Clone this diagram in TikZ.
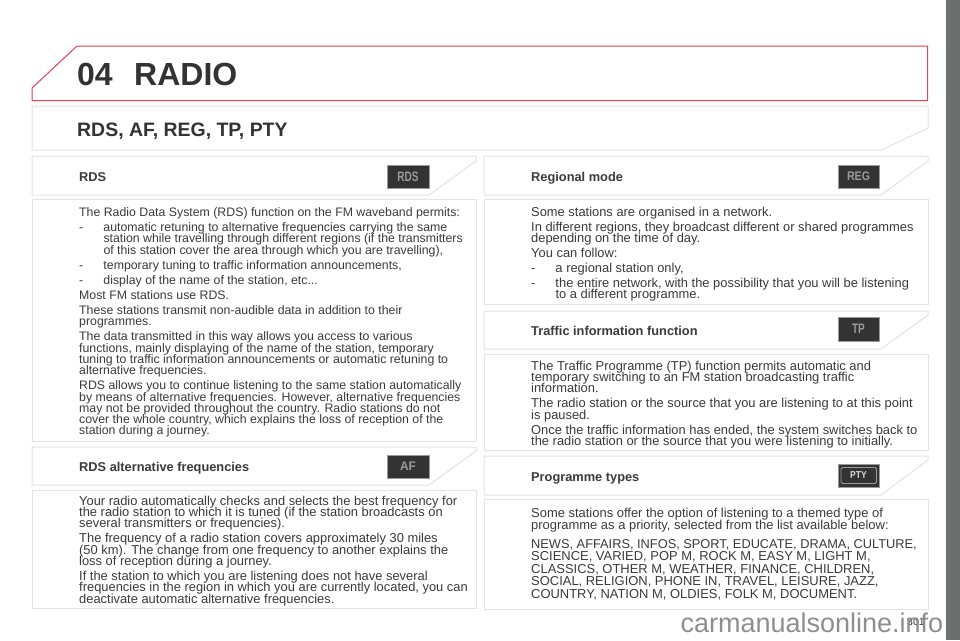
\documentclass[tikz,border=0pt]{standalone}
\usepackage{fontspec}
\setmainfont{Liberation Sans}
\definecolor{ink}{HTML}{3A3A3A}
\definecolor{frame}{HTML}{E3E3E3}
\definecolor{redline}{HTML}{E8404F}
\definecolor{side}{HTML}{6D6E70}
\definecolor{icon}{HTML}{333333}
\definecolor{icontext}{HTML}{9A9A9A}
\definecolor{wm}{HTML}{8E8E8E}
\newcommand{\bl}{\hspace*{24.3pt}}
\newcommand{\dsh}{\makebox[24.3pt][l]{-}}
\newcommand{\pg}{\\[3.75pt]}
\AtBeginDocument{\setlength{\lineskiplimit}{-50pt}}
\tikzset{
  panel/.style={draw=frame,line width=1pt,fill=white},
  bodytext/.style={anchor=north west,inner sep=0pt,align=left,text=ink,font=\fontsize{12.9}{11.3}\selectfont},
  bodywide/.style={anchor=north west,inner sep=0pt,align=left,text=ink,font=\fontsize{12.32}{11.3}\selectfont},
  bodyloose/.style={anchor=north west,inner sep=0pt,align=left,text=ink,font=\fontsize{12.95}{12.5}\selectfont},
  headtext/.style={anchor=base west,inner sep=0pt,text=ink,font=\fontsize{12.8}{14}\selectfont\bfseries},
  iconbox/.style={draw=icontext,line width=0.5pt,fill=icon,minimum width=41.5pt,minimum height=23.5pt,inner sep=0pt,text=icontext,font=\fontsize{12.5}{14}\selectfont\bfseries}
}
\begin{document}
\begin{tikzpicture}[x=1pt,y=-1pt]
\useasboundingbox (0,0) rectangle (960,640);
\fill[white] (0,0) rectangle (960,640);
\fill[side] (946,0) rectangle (960,640);
% title
\draw[draw=redline,line width=1pt,fill=white] (32,88) -- (77,46) -- (927.5,46) -- (927.5,100.5) -- (32,100.5) -- cycle;
\node[anchor=base west,inner sep=0pt,text=icon,font=\fontsize{32}{36}\selectfont\bfseries] (num) at (77,85) {04};
\node[anchor=base west,inner sep=0pt,text=icon,font=\fontsize{32}{36}\selectfont\bfseries] (title) at (134,85) {RADIO};
% section
\draw[panel] (32,106) -- (928,106) -- (928,128) -- (881.5,150) -- (32,150) -- cycle;
\node[anchor=base west,inner sep=0pt,text=icon,font=\fontsize{19.45}{22}\selectfont\bfseries] (section) at (77,136) {RDS, AF, REG, TP, PTY};
% left column
\draw[panel] (32,156) -- (476,156) -- (476,161) -- (429,195) -- (32,195) -- cycle;
\node[headtext] (h1) at (79,181) {RDS};
\node[iconbox] (i1) at (408,176.5) {\scalebox{0.8}[1.1]{RDS}};
\draw[panel] (32,199) rectangle (476,441);
\node[bodywide] (b1) at (79,207.5) {The Radio Data System (RDS) function on the FM waveband permits:\pg
\dsh automatic retuning to alternative frequencies carrying the same\\
\bl station while travelling through different regions (if the transmitters\\
\bl of this station cover the area through which you are travelling),\pg
\dsh temporary tuning to traffic information announcements,\pg
\dsh display of the name of the station, etc...\pg
Most FM stations use RDS.\pg
These stations transmit non-audible data in addition to their\\
programmes.\pg
The data transmitted in this way allows you access to various\\
functions, mainly displaying of the name of the station, temporary\\
tuning to traffic information announcements or automatic retuning to\\
alternative frequencies.\pg
RDS allows you to continue listening to the same station automatically\\
by means of alternative frequencies. However, alternative frequencies\\
may not be provided throughout the country. Radio stations do not\\
cover the whole country, which explains the loss of reception of the\\
station during a journey.};
\draw[panel] (32,447) -- (476,447) -- (476,451) -- (429,485) -- (32,485) -- cycle;
\node[headtext] (h2) at (79,471) {RDS alternative frequencies};
\node[iconbox] (i2) at (408,466.5) {\scalebox{0.95}[1]{AF}};
\draw[panel] (32,490) rectangle (476,608);
\node[bodytext] (b2) at (79,495.7) {Your radio automatically checks and selects the best frequency for\\
the radio station to which it is tuned (if the station broadcasts on\\
several transmitters or frequencies).\pg
The frequency of a radio station covers approximately 30 miles\\
(50 km). The change from one frequency to another explains the\\
loss of reception during a journey.\pg
If the station to which you are listening does not have several\\
frequencies in the region in which you are currently located, you can\\
deactivate automatic alternative frequencies.};
% right column
\draw[panel] (484,156) -- (928,156) -- (928,161) -- (881,195) -- (484,195) -- cycle;
\node[headtext] (h3) at (531,181) {Regional mode};
\node[iconbox] (i3) at (858.5,176.5) {\scalebox{0.85}[1]{REG}};
\draw[panel] (484,199) rectangle (928,304);
\node[bodytext] (b3) at (531,206.5) {Some stations are organised in a network.\pg
In different regions, they broadcast different or shared programmes\\
depending on the time of day.\pg
You can follow:\pg
\dsh a regional station only,\pg
\dsh the entire network, with the possibility that you will be listening\\
\bl to a different programme.};
\draw[panel] (484,311) -- (928,311) -- (928,315) -- (881,349) -- (484,349) -- cycle;
\node[headtext] (h4) at (531,335) {Traffic information function};
\node[iconbox] (i4) at (858.5,329) {\scalebox{0.8}[1.1]{TP}};
\draw[panel] (484,354) rectangle (928,450);
\node[bodytext] (b4) at (531,360.5) {The Traffic Programme (TP) function permits automatic and\\
temporary switching to an FM station broadcasting traffic\\
information.\pg
The radio station or the source that you are listening to at this point\\
is paused.\pg
Once the traffic information has ended, the system switches back to\\
the radio station or the source that you were listening to initially.};
\draw[panel] (484,456) -- (928,456) -- (928,460) -- (881,495) -- (484,495) -- cycle;
\node[headtext] (h5) at (531,481) {Programme types};
\node[iconbox] (i5) at (858.5,475.5) {};
\draw[draw=icontext,line width=0.8pt,rounded corners=1.5pt] (841,467.5) rectangle (876.5,483.5);
\node[inner sep=0pt,text=white!85!black,font=\fontsize{10}{12}\selectfont\bfseries] (i5t) at (858.5,475.5) {\scalebox{0.85}[1]{PTY}};
\draw[panel] (484,499) rectangle (928,609);
\node[bodyloose] (b5) at (531,507.5) {Some stations offer the option of listening to a themed type of\\
programme as a priority, selected from the list available below:\\[6pt]
\fontsize{12.8}{12.5}\selectfont NEWS, AFFAIRS, INFOS, SPORT, EDUCATE, DRAMA, CULTURE,\\
SCIENCE, VARIED, POP M, ROCK M, EASY M, LIGHT M,\\
CLASSICS, OTHER M, WEATHER, FINANCE, CHILDREN,\\
SOCIAL, RELIGION, PHONE IN, TRAVEL, LEISURE, JAZZ,\\
COUNTRY, NATION M, OLDIES, FOLK M, DOCUMENT.};
% page number and watermark
\node[anchor=base west,inner sep=0pt,text=icon,font=\fontsize{10.5}{12}\selectfont] (page) at (907,625) {301};
\node[anchor=base east,inner sep=0pt,text=wm,font=\fontsize{27}{30}\selectfont] (mark) at (943.5,632) {carmanualsonline.info};
\end{tikzpicture}
\end{document}
